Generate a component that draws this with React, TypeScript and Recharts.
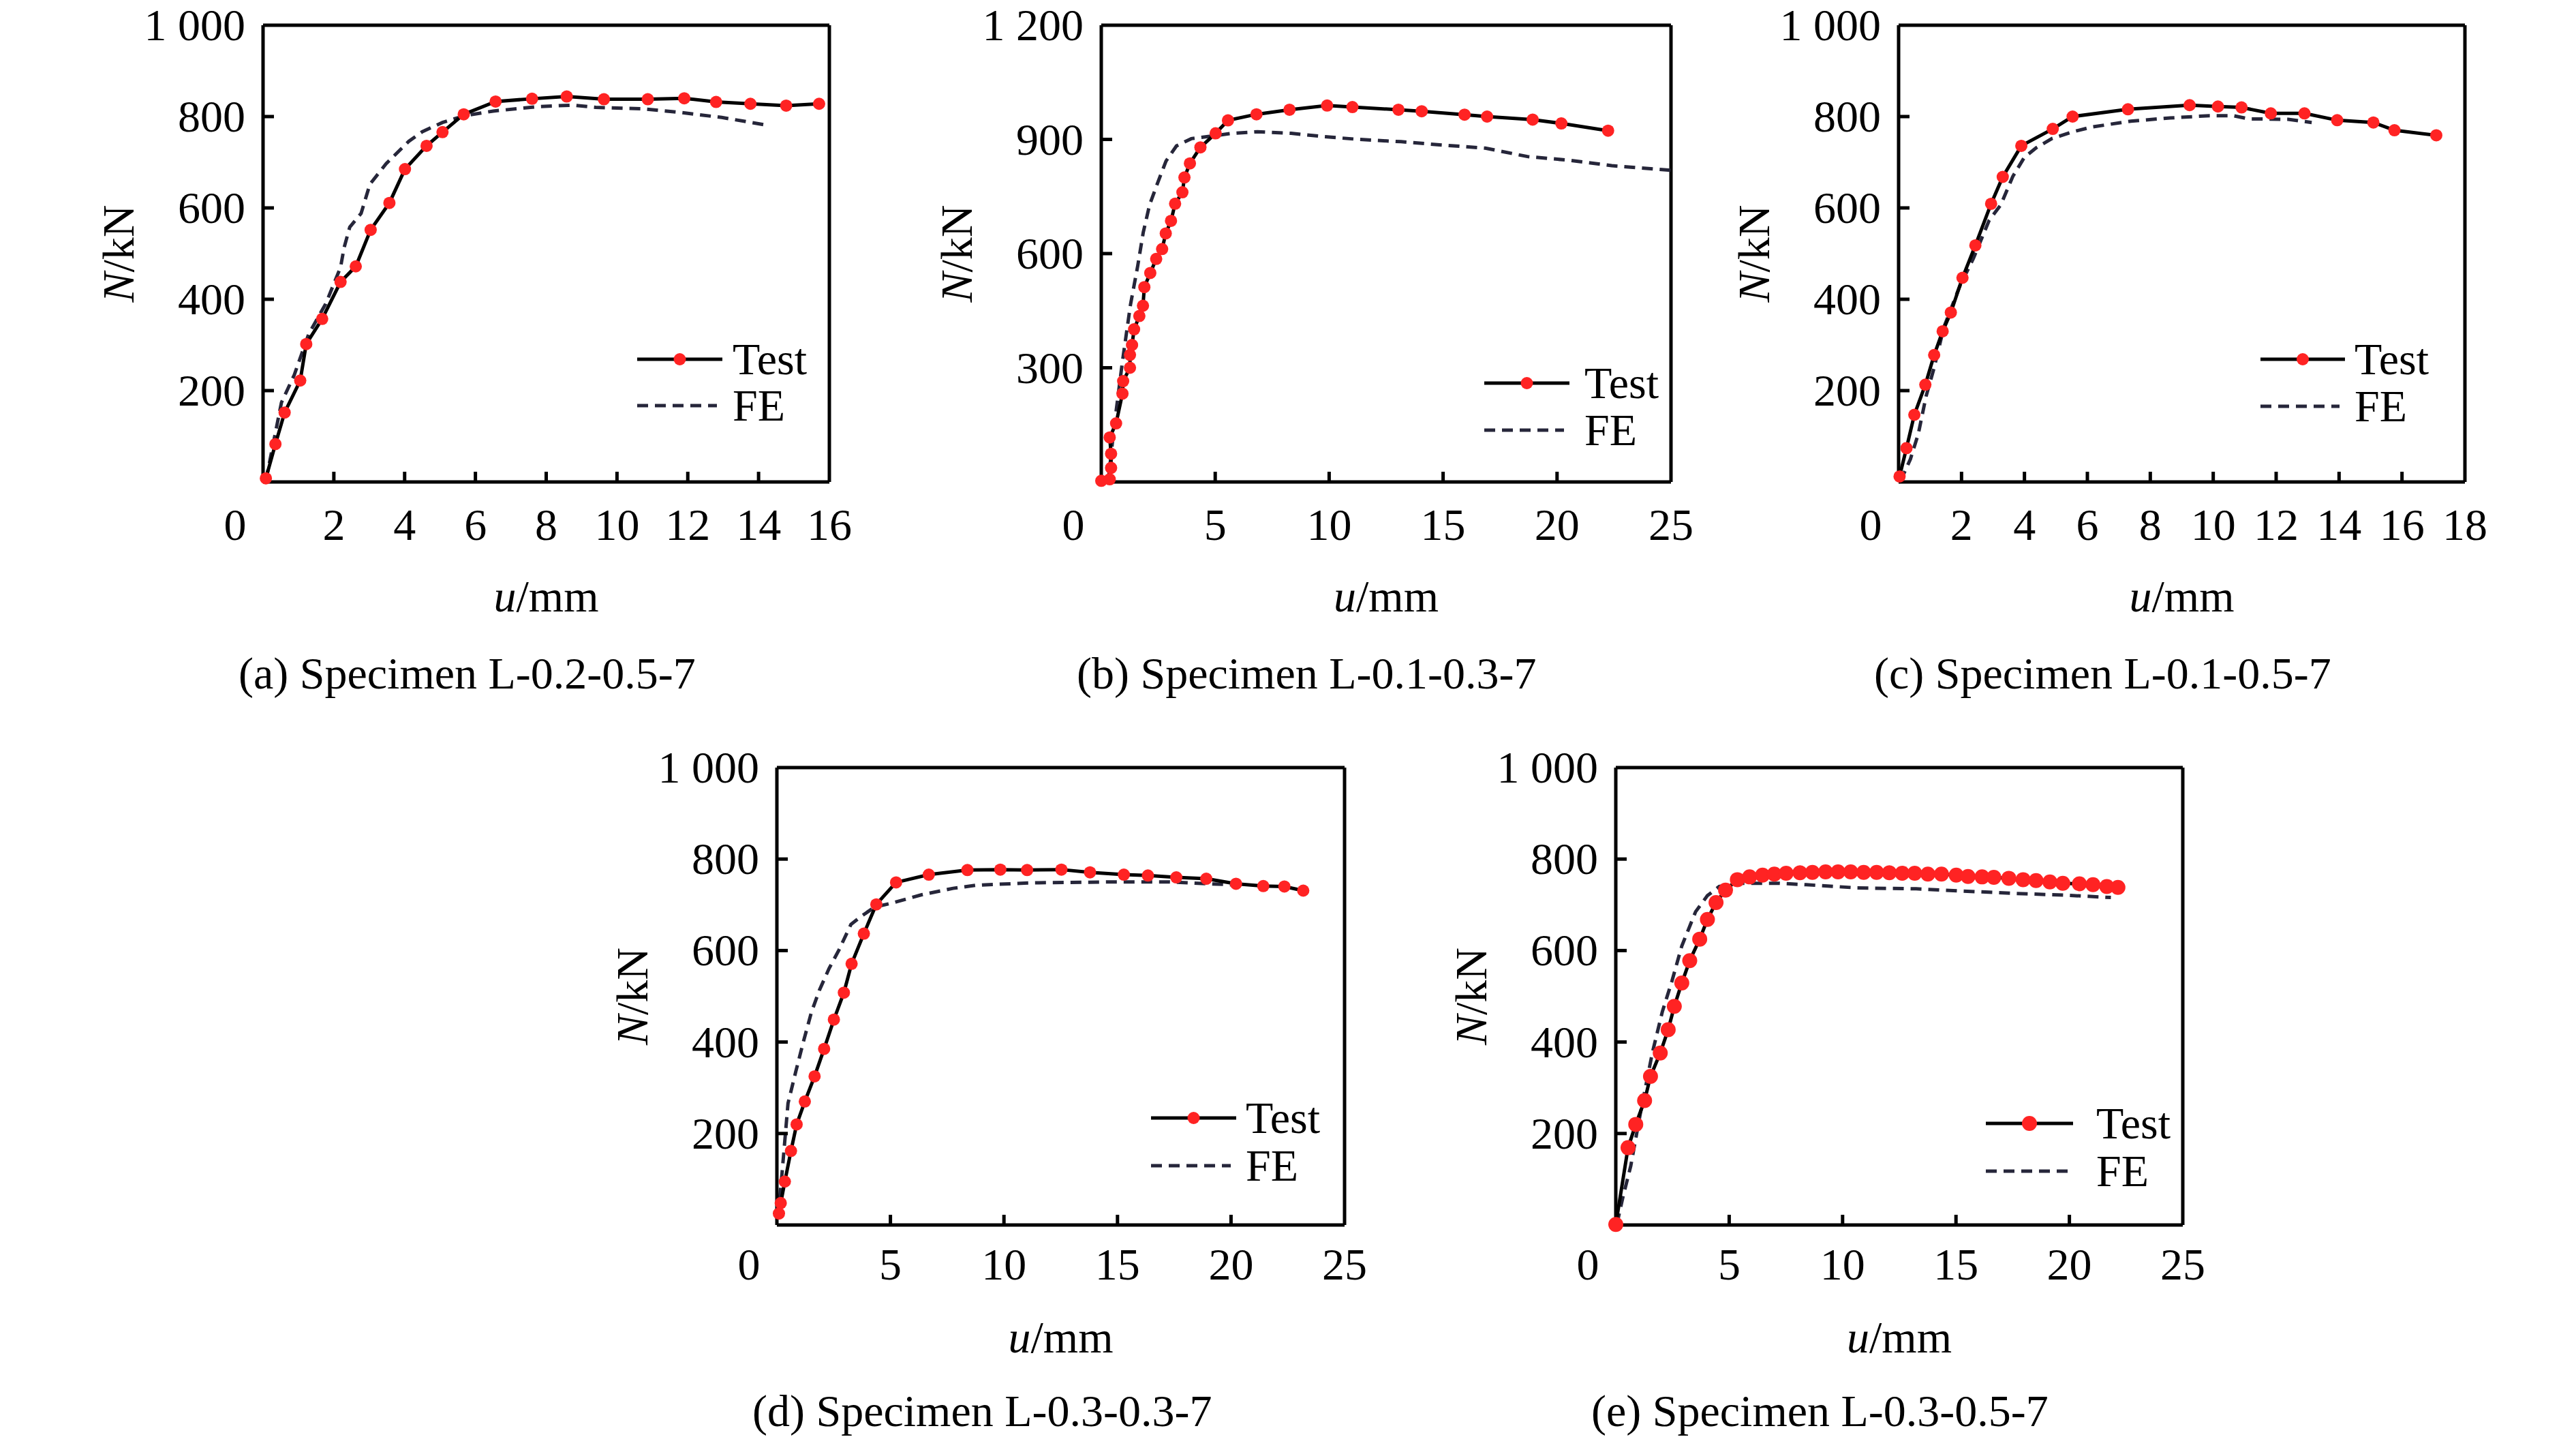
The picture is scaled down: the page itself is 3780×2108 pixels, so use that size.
import React from 'react';
import { LineChart, Line, XAxis, YAxis, ReferenceLine } from 'recharts';

const FONT = "'Liberation Serif','Times New Roman',Times,serif";
const RED = '#ff2323';
const DASH = '#26263a';

type Pt = { u: number; n: number };
const mk = (arr: number[][]): Pt[] => arr.map(([u, n]) => ({ u, n }));

// ---------- (a) Specimen L-0.2-0.5-7 ----------
const testA = mk([
  [0.08, 8], [0.35, 83], [0.61, 152], [1.05, 222], [1.22, 302], [1.67, 357], [2.19, 438],
  [2.62, 472], [3.04, 552], [3.57, 611], [4.01, 685], [4.62, 736], [5.07, 766], [5.67, 805],
  [6.57, 833], [7.6, 839], [8.58, 844], [9.63, 838], [10.87, 838], [11.9, 840], [12.8, 832],
  [13.77, 828], [14.78, 824], [15.71, 828],
]);
const feA = mk([
  [0.08, 3], [0.52, 174], [0.88, 234], [1.29, 324], [1.77, 390], [2.19, 470], [2.29, 513],
  [2.45, 558], [2.77, 588], [3.02, 652], [3.48, 697], [4.12, 746], [4.5, 767], [5.07, 787],
  [5.7, 802], [6.5, 812], [7.8, 822], [8.77, 825], [9.4, 820], [10.7, 817], [11.8, 809],
  [12.96, 798], [14.25, 781],
]);

// ---------- (b) Specimen L-0.1-0.3-7 ----------
const testB = mk([
  [0.0, 3], [0.37, 7], [0.43, 37], [0.43, 74], [0.37, 117], [0.65, 154], [0.93, 232],
  [0.96, 265], [1.26, 300], [1.26, 334], [1.35, 360], [1.44, 401], [1.67, 436], [1.83, 463],
  [1.89, 512], [2.15, 549], [2.41, 586], [2.67, 612], [2.83, 653], [3.06, 686], [3.24, 731],
  [3.56, 761], [3.65, 800], [3.89, 837], [4.35, 879], [5.02, 916], [5.56, 950], [6.81, 966],
  [8.26, 978], [9.91, 989], [11.02, 985], [13.04, 978], [14.06, 974], [15.94, 965],
  [16.93, 960], [18.93, 952], [20.19, 942], [22.24, 923],
]);
const feB = mk([
  [0.3, 0], [0.56, 143], [0.93, 317], [1.28, 465], [1.6, 568], [1.84, 655], [2.12, 728],
  [2.45, 782], [2.84, 843], [3.3, 883], [3.95, 902], [4.63, 907], [5.74, 916], [6.85, 920],
  [8.33, 916], [9.81, 907], [11.3, 900], [13.15, 894], [15, 885], [16.85, 877], [18.7, 855],
  [20.56, 845], [22.4, 831], [25, 819],
]);

// ---------- (c) Specimen L-0.1-0.5-7 ----------
const testC = mk([
  [0.03, 12], [0.25, 74], [0.5, 147], [0.85, 213], [1.13, 278], [1.4, 330], [1.66, 371],
  [2.03, 447], [2.44, 518], [2.94, 609], [3.31, 668], [3.9, 736], [4.9, 773], [5.53, 800],
  [7.29, 816], [9.25, 825], [10.15, 822], [10.9, 820], [11.83, 807], [12.9, 807],
  [13.94, 792], [15.09, 787], [15.76, 770], [17.09, 759],
]);
const feC = mk([
  [0.06, 2], [0.375, 50], [0.625, 105], [0.875, 188], [1.125, 249], [1.44, 339], [1.94, 428],
  [2.38, 490], [2.88, 573], [3.25, 607], [3.63, 669], [4.0, 711], [4.38, 732], [4.88, 752],
  [5.5, 766], [6.13, 777], [7.38, 790], [8.63, 797], [9.88, 802], [10.63, 802], [11.13, 795],
  [12.38, 794], [13.13, 787],
]);

// ---------- (d) Specimen L-0.3-0.3-7 ----------
const testD = mk([
  [0.09, 25], [0.17, 48], [0.35, 95], [0.62, 162], [0.87, 220], [1.23, 270], [1.66, 325],
  [2.08, 385], [2.51, 449], [2.95, 508], [3.29, 571], [3.83, 637], [4.38, 701], [5.25, 749],
  [6.69, 766], [8.39, 776], [9.84, 777], [11.02, 776], [12.53, 777], [13.79, 771],
  [15.28, 766], [16.34, 764], [17.59, 760], [18.91, 757], [20.22, 746], [21.42, 741],
  [22.35, 740], [23.18, 731],
]);
const feD = mk([
  [0.05, 19], [0.23, 115], [0.49, 266], [0.83, 335], [1.18, 403], [1.52, 465], [1.87, 513],
  [2.3, 561], [2.74, 602], [3.26, 657], [3.69, 674], [4.3, 695], [5.16, 705], [6.38, 722],
  [7.76, 736], [8.8, 743], [11.23, 748], [14.7, 750], [17.28, 750], [19.03, 746], [20.0, 744],
]);

// ---------- (e) Specimen L-0.3-0.5-7 ----------
const testE = mk([
  [0.0, 1], [0.54, 169], [0.88, 220], [1.27, 272], [1.53, 325], [1.96, 376], [2.31, 427],
  [2.58, 478], [2.91, 529], [3.26, 578], [3.7, 625], [4.04, 668], [4.42, 705], [4.84, 732],
  [5.36, 755], [5.9, 761], [6.47, 765], [6.99, 767], [7.51, 769], [8.12, 770], [8.67, 771],
  [9.25, 772], [9.8, 772], [10.36, 772], [10.93, 771], [11.5, 771], [12.06, 770],
  [12.63, 769], [13.18, 769], [13.76, 767], [14.36, 767], [15.01, 765], [15.53, 762],
  [16.15, 761], [16.67, 760], [17.33, 758], [17.96, 755], [18.53, 753], [19.14, 750],
  [19.71, 747], [20.44, 746], [21.04, 744], [21.65, 740], [22.14, 738],
]);
const feE = mk([
  [0.05, 2], [0.31, 60], [0.66, 129], [1.09, 246], [1.61, 376], [2.05, 466], [2.48, 534],
  [2.91, 610], [3.52, 685], [4.04, 720], [4.56, 740], [5.43, 747], [7.17, 747], [8.39, 744],
  [10.64, 737], [13.24, 735], [15.32, 730], [17.58, 725], [19.83, 721], [21.83, 716],
]);

// ---------- tick values and labels ----------
const xTicks16 = [0, 2, 4, 6, 8, 10, 12, 14, 16];
const xTicks18 = [0, 2, 4, 6, 8, 10, 12, 14, 16, 18];
const xTicks25 = [0, 5, 10, 15, 20, 25];
const yTicks1000 = [0, 200, 400, 600, 800, 1000];
const yTicks1200 = [0, 300, 600, 900, 1200];
const captions = [
  '(a) Specimen L-0.2-0.5-7',
  '(b) Specimen L-0.1-0.3-7',
  '(c) Specimen L-0.1-0.5-7',
  '(d) Specimen L-0.3-0.3-7',
  '(e) Specimen L-0.3-0.5-7',
];
const legendNames = ['Test', 'FE'];

const fmtY = (v: number) => (v >= 1000 ? `${Math.floor(v / 1000)} ${String(v % 1000).padStart(3, '0')}` : String(v));

const FS = 66;
const LW = 5;

// layout (pixel positions of plot areas and legends)
const panels = [
  { left: 386, top: 37, w: 831, h: 670, xMax: 16, xTicks: xTicks16, yMax: 1000, yTicks: yTicks1000, test: testA, fe: feA, cap: captions[0], xDy: 85, uY: 897, capY: 1010, lg: { x1: 935, x2: 1060, tx: 1075, r1: 527, r2: 595 }, r: 9 },
  { left: 1616, top: 37, w: 836, h: 670, xMax: 25, xTicks: xTicks25, yMax: 1200, yTicks: yTicks1200, test: testB, fe: feB, cap: captions[1], xDy: 85, uY: 897, capY: 1010, lg: { x1: 2178, x2: 2303, tx: 2325, r1: 562, r2: 631 }, r: 9 },
  { left: 2786, top: 37, w: 831, h: 670, xMax: 18, xTicks: xTicks18, yMax: 1000, yTicks: yTicks1000, test: testC, fe: feC, cap: captions[2], xDy: 85, uY: 897, capY: 1010, lg: { x1: 3317, x2: 3441, tx: 3455, r1: 527, r2: 596 }, r: 9 },
  { left: 1140, top: 1126, w: 833, h: 671, xMax: 25, xTicks: xTicks25, yMax: 1000, yTicks: yTicks1000, test: testD, fe: feD, cap: captions[3], xDy: 80, uY: 1984, capY: 2092, lg: { x1: 1689, x2: 1814, tx: 1828, r1: 1640, r2: 1710 }, r: 9 },
  { left: 2371, top: 1126, w: 832, h: 671, xMax: 25, xTicks: xTicks25, yMax: 1000, yTicks: yTicks1000, test: testE, fe: feE, cap: captions[4], xDy: 80, uY: 1984, capY: 2092, lg: { x1: 2914, x2: 3042, tx: 3076, r1: 1648, r2: 1718 }, r: 11 },
];

const ML = 280, MR = 40, MT = 50, MB = 120;

function Panel({ p }: { p: (typeof panels)[number] }) {
  const xTick = (props: any) => {
    const { x, y, payload } = props;
    const v = payload.value;
    const inner = v !== 0 && v !== p.xMax;
    return (
      <g>
        {inner && <line x1={x} y1={y} x2={x} y2={y - 15} stroke="#000" strokeWidth={LW} />}
        <text x={v === 0 ? x - 41 : x} y={y + p.xDy} textAnchor="middle" fontFamily={FONT} fontSize={FS} fill="#000">
          {v}
        </text>
      </g>
    );
  };
  const yTick = (props: any) => {
    const { x, y, payload } = props;
    const v = payload.value;
    if (v === 0) return <g />;
    const inner = v !== p.yMax;
    return (
      <g>
        {inner && <line x1={x} y1={y} x2={x + 16} y2={y} stroke="#000" strokeWidth={LW} />}
        <text x={x - 26} y={y + 22} textAnchor="end" fontFamily={FONT} fontSize={FS} fill="#000">
          {fmtY(v)}
        </text>
      </g>
    );
  };
  return (
    <div style={{ position: 'absolute', left: p.left - ML, top: p.top - MT }}>
      <LineChart width={p.w + ML + MR} height={p.h + MT + MB} margin={{ top: MT, right: MR, bottom: 0, left: 0 }}>
        <XAxis
          type="number"
          dataKey="u"
          domain={[0, p.xMax]}
          ticks={p.xTicks}
          interval={0}
          height={MB}
          tickSize={0}
          tickMargin={0}
          tickLine={false}
          axisLine={{ stroke: '#000', strokeWidth: LW }}
          tick={xTick}
        />
        <YAxis
          type="number"
          dataKey="n"
          domain={[0, p.yMax]}
          ticks={p.yTicks}
          interval={0}
          width={ML}
          tickSize={0}
          tickMargin={0}
          tickLine={false}
          axisLine={{ stroke: '#000', strokeWidth: LW }}
          tick={yTick}
        />
        <ReferenceLine y={p.yMax} stroke="#000" strokeWidth={LW} />
        <ReferenceLine x={p.xMax} stroke="#000" strokeWidth={LW} />
        <Line
          data={p.fe}
          dataKey="n"
          type="linear"
          stroke={DASH}
          strokeWidth={LW}
          strokeDasharray="16 10"
          dot={false}
          isAnimationActive={false}
        />
        <Line
          data={p.test}
          dataKey="n"
          type="linear"
          stroke="#000"
          strokeWidth={LW}
          dot={{ r: p.r, fill: RED, stroke: 'none' }}
          isAnimationActive={false}
        />
      </LineChart>
    </div>
  );
}

function Overlay() {
  return (
    <svg width={3780} height={2108} style={{ position: 'absolute', left: 0, top: 0, pointerEvents: 'none' }}>
      {panels.map((p, i) => {
        const cx = p.left + p.w / 2;
        const cy = p.top + p.h / 2;
        const nx = p.left - 213;
        const mid = (p.lg.x1 + p.lg.x2) / 2;
        return (
          <g key={i} fontFamily={FONT} fontSize={FS} fill="#000">
            <text x={nx} y={cy} transform={`rotate(-90 ${nx} ${cy})`} textAnchor="middle" dominantBaseline="central">
              <tspan fontStyle="italic">N</tspan>/kN
            </text>
            <text x={cx} y={p.uY} textAnchor="middle">
              <tspan fontStyle="italic">u</tspan>/mm
            </text>
            <text x={p.left - 36} y={p.capY} textAnchor="start">
              {p.cap}
            </text>
            <line x1={p.lg.x1} y1={p.lg.r1} x2={p.lg.x2} y2={p.lg.r1} stroke="#000" strokeWidth={LW} />
            <circle cx={mid} cy={p.lg.r1} r={p.r} fill={RED} />
            <text x={p.lg.tx} y={p.lg.r1 + 22}>{legendNames[0]}</text>
            <line x1={p.lg.x1} y1={p.lg.r2} x2={p.lg.x2 - 8} y2={p.lg.r2} stroke={DASH} strokeWidth={LW} strokeDasharray="16 10" />
            <text x={p.lg.tx} y={p.lg.r2 + 22}>{legendNames[1]}</text>
          </g>
        );
      })}
    </svg>
  );
}

export default function App() {
  return (
    <div style={{ position: 'absolute', left: 0, top: 0, width: 3780, height: 2108, background: '#fff', overflow: 'hidden' }}>
      {panels.map((p, i) => (
        <Panel key={i} p={p} />
      ))}
      <Overlay />
    </div>
  );
}
